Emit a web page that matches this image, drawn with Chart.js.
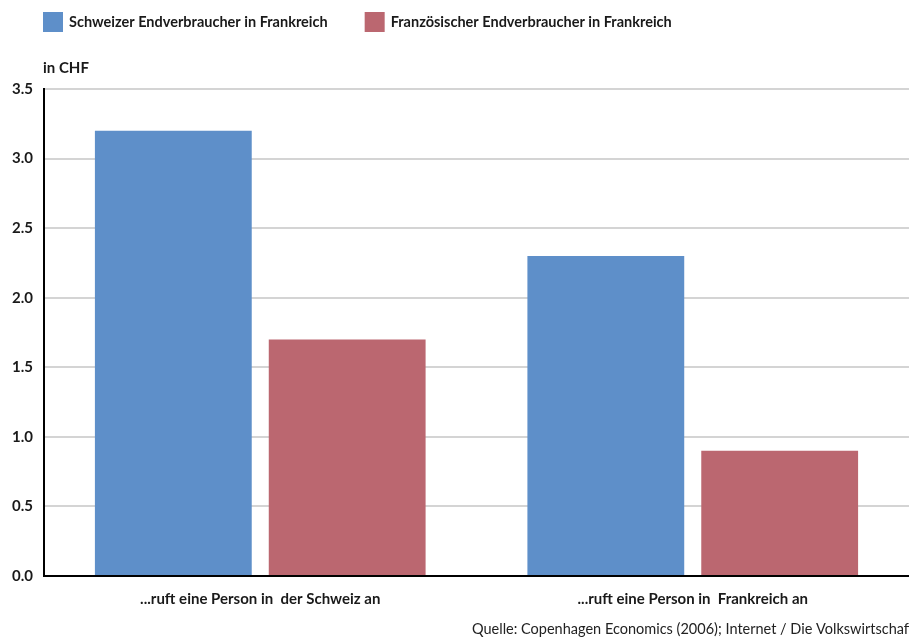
<!DOCTYPE html>
<html>
<head>
<meta charset="utf-8">
<script src="https://cdn.jsdelivr.net/npm/chart.js@4/dist/chart.umd.min.js"></script>
<style>
  html, body { margin: 0; padding: 0; background: #fff; }
  #wrap { width: 909px; height: 637px; position: relative; }
</style>
</head>
<body>
<div id="wrap"><canvas id="c" width="909" height="637"></canvas></div>
<script>
const categories = ["...ruft eine Person in  der Schweiz an", "...ruft eine Person in  Frankreich an"];
const seriesNames = ["Schweizer Endverbraucher in Frankreich", "Französischer Endverbraucher in Frankreich"];
const swissValues = [3.2, 2.3];
const frenchValues = [1.7, 0.9];
const yTicks = [0, 0.5, 1.0, 1.5, 2.0, 2.5, 3.0, 3.5];
const unitLabel = "in CHF";
const sourceText = "Quelle: Copenhagen Economics (2006); Internet / Die Volkswirtschaft";

const colors = ["#5E8FC9", "#BB6770"];
const FONT = "Lato, 'Open Sans', sans-serif";

const extras = {
  id: 'extras',
  afterDraw(chart) {
    const ctx = chart.ctx;
    ctx.save();
    // legend
    ctx.font = "bold 14.5px " + FONT;
    ctx.textBaseline = "middle";
    let x = 43;
    chart.data.datasets.forEach((ds, i) => {
      ctx.fillStyle = ds.backgroundColor;
      ctx.fillRect(x, 12, 20, 20);
      ctx.fillStyle = "#1a1a1a";
      ctx.textAlign = "left";
      ctx.fillText(ds.label, x + 26, 22);
      x += 26 + ctx.measureText(ds.label).width + 37;
    });
    // unit label
    ctx.fillStyle = "#1a1a1a";
    ctx.font = "bold 15px " + FONT;
    ctx.fillText(unitLabel, 43, 68);
    // source
    ctx.font = "14.5px " + FONT;
    ctx.fillStyle = "#222";
    ctx.fillText(sourceText, 472, 629);
    ctx.restore();
  }
};

new Chart(document.getElementById('c'), {
  type: 'bar',
  data: {
    labels: categories,
    datasets: [
      { label: seriesNames[0], data: swissValues, backgroundColor: colors[0] },
      { label: seriesNames[1], data: frenchValues, backgroundColor: colors[1] }
    ]
  },
  options: {
    responsive: false,
    animation: false,
    devicePixelRatio: 1,
    layout: { padding: { top: 89, right: 0, bottom: 0, left: 0 } },
    datasets: { bar: { categoryPercentage: 0.804, barPercentage: 0.902 } },
    plugins: { legend: { display: false }, tooltip: { enabled: false }, title: { display: false } },
    scales: {
      x: {
        grid: { display: false, drawTicks: false },
        border: { display: true, color: "#000", width: 2 },
        ticks: { color: "#1a1a1a", font: { family: FONT, size: 15, weight: 'bold' }, padding: 14, maxRotation: 0 },
        afterFit(scale) { scale.height = 61; }
      },
      y: {
        min: 0, max: 3.5,
        afterBuildTicks(scale) { scale.ticks = yTicks.map(v => ({ value: v })); },
        grid: { color: "#d4d4d4", lineWidth: 2, drawTicks: false },
        border: { display: true, color: "#000", width: 2 },
        ticks: {
          color: "#1a1a1a", font: { family: FONT, size: 15, weight: 'bold' }, padding: 11,
          callback: v => Number(v).toFixed(1)
        },
        afterFit(scale) { scale.width = 44; }
      }
    }
  },
  plugins: [extras]
});
</script>
</body>
</html>
